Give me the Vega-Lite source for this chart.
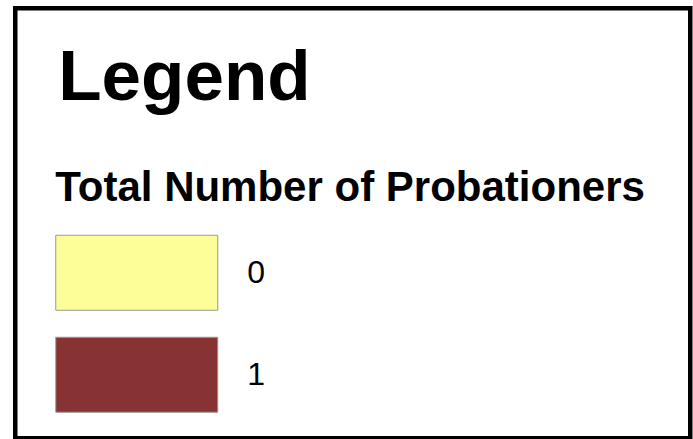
{
  "$schema": "https://vega.github.io/schema/vega-lite/v6.json",
  "width": 675,
  "height": 430,
  "autosize": {"type": "none"},
  "padding": {"left": 15.25, "top": 8.25, "right": 2.75, "bottom": 0.75},
  "background": "white",
  "view": {"stroke": "black", "strokeWidth": 4.5, "fill": "white"},
  "config": {
    "font": "Liberation Sans"
  },
  "title": {
    "text": "Legend",
    "anchor": "start",
    "frame": "group",
    "fontSize": 71,
    "fontWeight": "bold",
    "color": "black",
    "font": "Liberation Sans",
    "baseline": "alphabetic",
    "offset": 0,
    "dx": 43,
    "dy": 163
  },
  "data": {"values": [{"count": "0"}, {"count": "1"}]},
  "mark": {"type": "point", "filled": true, "opacity": 0},
  "encoding": {
    "color": {
      "field": "count",
      "type": "nominal",
      "scale": {"domain": ["0", "1"], "range": ["#FEFE98", "#883333"]},
      "legend": {
        "orient": "none",
        "legendX": 40,
        "legendY": 160,
        "title": "Total Number of Probationers",
        "titleFont": "Liberation Sans",
        "titleFontSize": 42,
        "titleFontWeight": "bold",
        "titleColor": "black",
        "titleLimit": 700,
        "titlePadding": 24.5,
        "labelFont": "Liberation Sans",
        "labelFontSize": 32,
        "labelColor": "black",
        "labelOffset": 116,
        "symbolType": "M-1,-1L3.32,-1L3.32,1L-1,1Z",
        "symbolSize": 5625,
        "symbolStrokeColor": "#999999",
        "symbolStrokeWidth": 1,
        "symbolOpacity": 1,
        "rowPadding": 22,
        "padding": 0
      }
    }
  }
}
